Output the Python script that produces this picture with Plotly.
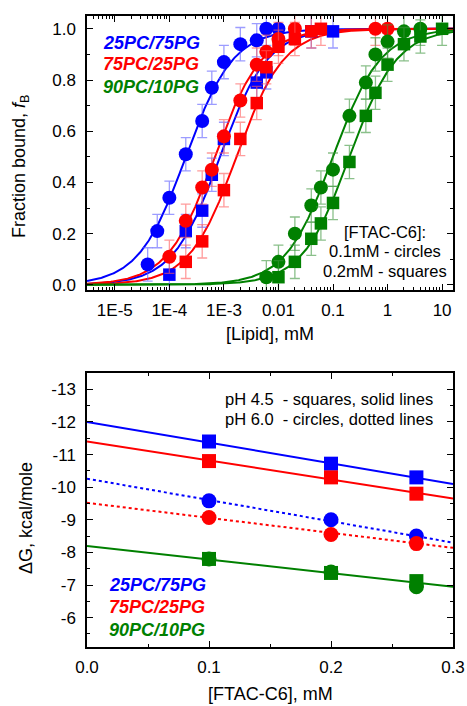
import numpy as np
import plotly.graph_objects as go

W, H = 467, 706

# ---------------- Top panel data ----------------
conc_bc = [4e-5, 6e-5, 1e-4, 2e-4, 4e-4, 6e-4, 1e-3, 2e-3, 4e-3, 6e-3, 1e-2]
fb_bc = [0.08, 0.21, 0.34, 0.51, 0.64, 0.77, 0.87, 0.94, 0.955, 1.0, 1.0]
conc_bs = [1e-4, 2e-4, 4e-4, 6e-4, 1e-3, 4e-3, 6e-3, 0.04, 0.1]
fb_bs = [0.04, 0.21, 0.29, 0.43, 0.57, 0.79, 0.83, 0.99, 0.99]
conc_rc = [1e-4, 2e-4, 4e-4, 6e-4, 1e-3, 2e-3, 4e-3, 6e-3, 1e-2, 2e-2, 0.6, 1.0]
fb_rc = [0.11, 0.25, 0.38, 0.45, 0.58, 0.72, 0.86, 0.91, 0.96, 1.0, 1.0, 1.0]
conc_rs = [2e-4, 4e-4, 1e-3, 2e-3, 4e-3, 6e-3, 1e-2, 2e-2, 4e-2, 6e-2]
fb_rs = [0.09, 0.17, 0.37, 0.57, 0.71, 0.85, 0.93, 0.96, 0.99, 1.0]
conc_gc = [0.006, 0.01, 0.02, 0.04, 0.06, 0.1, 0.2, 0.4, 0.6, 1, 2, 4]
fb_gc = [0.03, 0.09, 0.20, 0.31, 0.38, 0.45, 0.66, 0.79, 0.90, 0.95, 0.99, 1.0]
conc_gs = [0.01, 0.02, 0.04, 0.06, 0.1, 0.2, 0.4, 0.6, 1, 2, 4, 10]
fb_gs = [0.03, 0.09, 0.18, 0.24, 0.32, 0.48, 0.66, 0.75, 0.86, 0.94, 0.97, 1.0]
fb_err = 0.065
# fitted binding constants (half-saturation concentrations, mM)
fit_K = {"bc": 2.0e-4, "bs": 8.5e-4, "rc": 6.8e-4, "rs": 1.7e-3, "gc": 0.10, "gs": 0.20}

x_ticks_top = [1e-5, 1e-4, 1e-3, 1e-2, 1e-1, 1, 10]
x_ticktext_top = ["1E-5", "1E-4", "1E-3", "0.01", "0.1", "1", "10"]

# ---------------- Bottom panel data ----------------
x_ftac = [0.1, 0.2, 0.27]
dg_bs = [-11.4, -10.72, -10.3]
dg_rs = [-10.8, -10.3, -9.8]
dg_gs = [-7.8, -7.37, -7.12]
dg_bc = [-9.58, -9.0, -8.5]
dg_rc = [-9.07, -8.55, -8.27]
dg_gc = [-7.8, -7.4, -6.95]
line_x = [0.0, 0.3]
line_bs = [-12.0, -10.1]
line_rs = [-11.4, -9.65]
line_bc = [-10.26, -8.3]
line_rc = [-9.52, -8.14]
line_gs = [-8.2, -6.95]

BLUE, RED, GREEN = "#0000FF", "#FF0000", "#008000"
ERR = {BLUE: "rgba(90,90,255,0.6)", RED: "rgba(255,90,90,0.6)", GREEN: "rgba(60,150,60,0.6)"}
FONT = "Arial, Liberation Sans, sans-serif"

fig = go.Figure()

# fit curves
xx = np.logspace(-5.51, 1.2, 400)
for key, col in [("bc", BLUE), ("bs", BLUE), ("rc", RED), ("rs", RED), ("gc", GREEN), ("gs", GREEN)]:
    K = fit_K[key]
    fig.add_trace(go.Scatter(x=xx, y=xx / (K + xx), mode="lines",
                             line=dict(color=col, width=2), xaxis="x", yaxis="y",
                             showlegend=False, hoverinfo="skip"))

for cx, fy, col, sym in [(conc_bc, fb_bc, BLUE, "circle"), (conc_bs, fb_bs, BLUE, "square"),
                         (conc_rc, fb_rc, RED, "circle"), (conc_rs, fb_rs, RED, "square"),
                         (conc_gc, fb_gc, GREEN, "circle"), (conc_gs, fb_gs, GREEN, "square")]:
    fig.add_trace(go.Scatter(x=cx, y=fy, mode="markers", xaxis="x", yaxis="y",
                             marker=dict(symbol=sym, color=col, size=14 if sym == "circle" else 12.5,
                                         line=dict(width=0)),
                             error_y=dict(type="constant", value=fb_err, color=ERR[col],
                                          thickness=1.3, width=5),
                             showlegend=False))

# bottom lines
for ly, col, dash in [(line_bs, BLUE, "solid"), (line_rs, RED, "solid"),
                      (line_bc, BLUE, "dot"), (line_rc, RED, "dot"), (line_gs, GREEN, "solid")]:
    fig.add_trace(go.Scatter(x=line_x, y=ly, mode="lines", xaxis="x2", yaxis="y2",
                             line=dict(color=col, width=2, dash=dash), showlegend=False))

for dy, col, sym in [(dg_bs, BLUE, "square"), (dg_rs, RED, "square"), (dg_bc, BLUE, "circle"),
                     (dg_rc, RED, "circle"), (dg_gs, GREEN, "square"), (dg_gc, GREEN, "circle")]:
    fig.add_trace(go.Scatter(x=x_ftac, y=dy, mode="markers", xaxis="x2", yaxis="y2",
                             marker=dict(symbol=sym, color=col, size=15 if sym == "circle" else 14,
                                         line=dict(width=0)),
                             showlegend=False))

def px(p):
    return p / W

def py(p):
    return 1 - p / H

axis_common = dict(showline=True, linecolor="black", linewidth=1.5, mirror="allticks",
                   ticks="inside", ticklen=6, tickwidth=1.2, tickcolor="black",
                   showgrid=False, zeroline=False, automargin=False,
                   tickfont=dict(family=FONT, size=17, color="black"))

minor_top = [m * 10.0 ** d for d in range(-6, 2) for m in range(2, 10)]
minor_top = [v for v in minor_top if 10 ** -5.51 <= v <= 10 ** 1.2]

fig.update_layout(
    width=W, height=H, margin=dict(l=0, r=0, t=0, b=0, autoexpand=False),
    paper_bgcolor="white", plot_bgcolor="white",
    xaxis=dict(axis_common, type="log", range=[-5.51, 1.2], domain=[px(87), px(453)],
               tickmode="array", tickvals=x_ticks_top, ticktext=x_ticktext_top,
               ticklabelstandoff=4, anchor="y",
               minor=dict(tickmode="array", tickvals=minor_top, ticks="inside", ticklen=3,
                          tickwidth=1, tickcolor="black", showgrid=False)),
    yaxis=dict(axis_common, range=[-0.02, 1.05], domain=[py(290), py(16)], anchor="x",
               tickmode="array", tickvals=[0, 0.2, 0.4, 0.6, 0.8, 1.0],
               ticktext=["0.0", "0.2", "0.4", "0.6", "0.8", "1.0"], ticklabelstandoff=6,
               minor=dict(dtick=0.1, ticks="inside", ticklen=3, tickwidth=1, tickcolor="black",
                          showgrid=False)),
    xaxis2=dict(axis_common, range=[0, 0.3], domain=[px(87), px(453)], anchor="y2",
                tickmode="array", tickvals=[0, 0.1, 0.2, 0.3], ticktext=["0.0", "0.1", "0.2", "0.3"],
                ticklabelstandoff=4,
                minor=dict(dtick=0.05, ticks="inside", ticklen=3, tickwidth=1, tickcolor="black",
                           showgrid=False)),
    yaxis2=dict(axis_common, range=[-5.1, -13.5], domain=[py(647), py(373)], anchor="x2",
                tickmode="array", tickvals=[-13, -12, -11, -10, -9, -8, -7, -6],
                ticktext=["-13", "-12", "-11", "-10", "-9", "-8", "-7", "-6"], ticklabelstandoff=6,
                minor=dict(dtick=0.5, ticks="inside", ticklen=3, tickwidth=1, tickcolor="black",
                           showgrid=False)),
)

ann = []
def text(x, y, s, size=16, color="black", bold=False, italic=False, xanchor="left", angle=0):
    if bold:
        s = "<b>" + s + "</b>"
    if italic:
        s = "<i>" + s + "</i>"
    ann.append(dict(x=px(x), y=py(y), xref="paper", yref="paper", text=s, showarrow=False,
                    xanchor=xanchor, yanchor="middle", textangle=angle,
                    font=dict(family=FONT, size=size, color=color)))

# axis titles
text(20, 166, "Fraction bound, <i>f</i><sub>B</sub>", size=18, xanchor="center", angle=-90)
text(270, 334, "[Lipid], mM", size=18, xanchor="center")
text(26, 518, "ΔG, kcal/mole", size=18, xanchor="center", angle=-90)
text(270, 694, "[FTAC-C6], mM", size=18, xanchor="center")

# top legend
for s, col, y in [("25PC/75PG", BLUE, 43), ("75PC/25PG", RED, 64), ("90PC/10PG", GREEN, 87)]:
    text(101, y, s, size=18, color=col, bold=True, italic=True)
for s, y in [("[FTAC-C6]:", 232), ("0.1mM - circles", 251), ("0.2mM - squares", 271)]:
    text(385, y, s, size=16.5, xanchor="center")

# bottom legend
for s, col, y in [("25PC/75PG", BLUE, 585), ("75PC/25PG", RED, 607), ("90PC/10PG", GREEN, 630)]:
    text(107, y, s, size=18, color=col, bold=True, italic=True)
text(223, 399, "pH 4.5  - squares, solid lines", size=16.5)
text(223, 419, "pH 6.0  - circles, dotted lines", size=16.5)

fig.update_layout(annotations=ann)
fig.write_html("out.html", config={"displayModeBar": False},
               post_script="document.body.style.margin='0';document.body.style.padding='0';")
